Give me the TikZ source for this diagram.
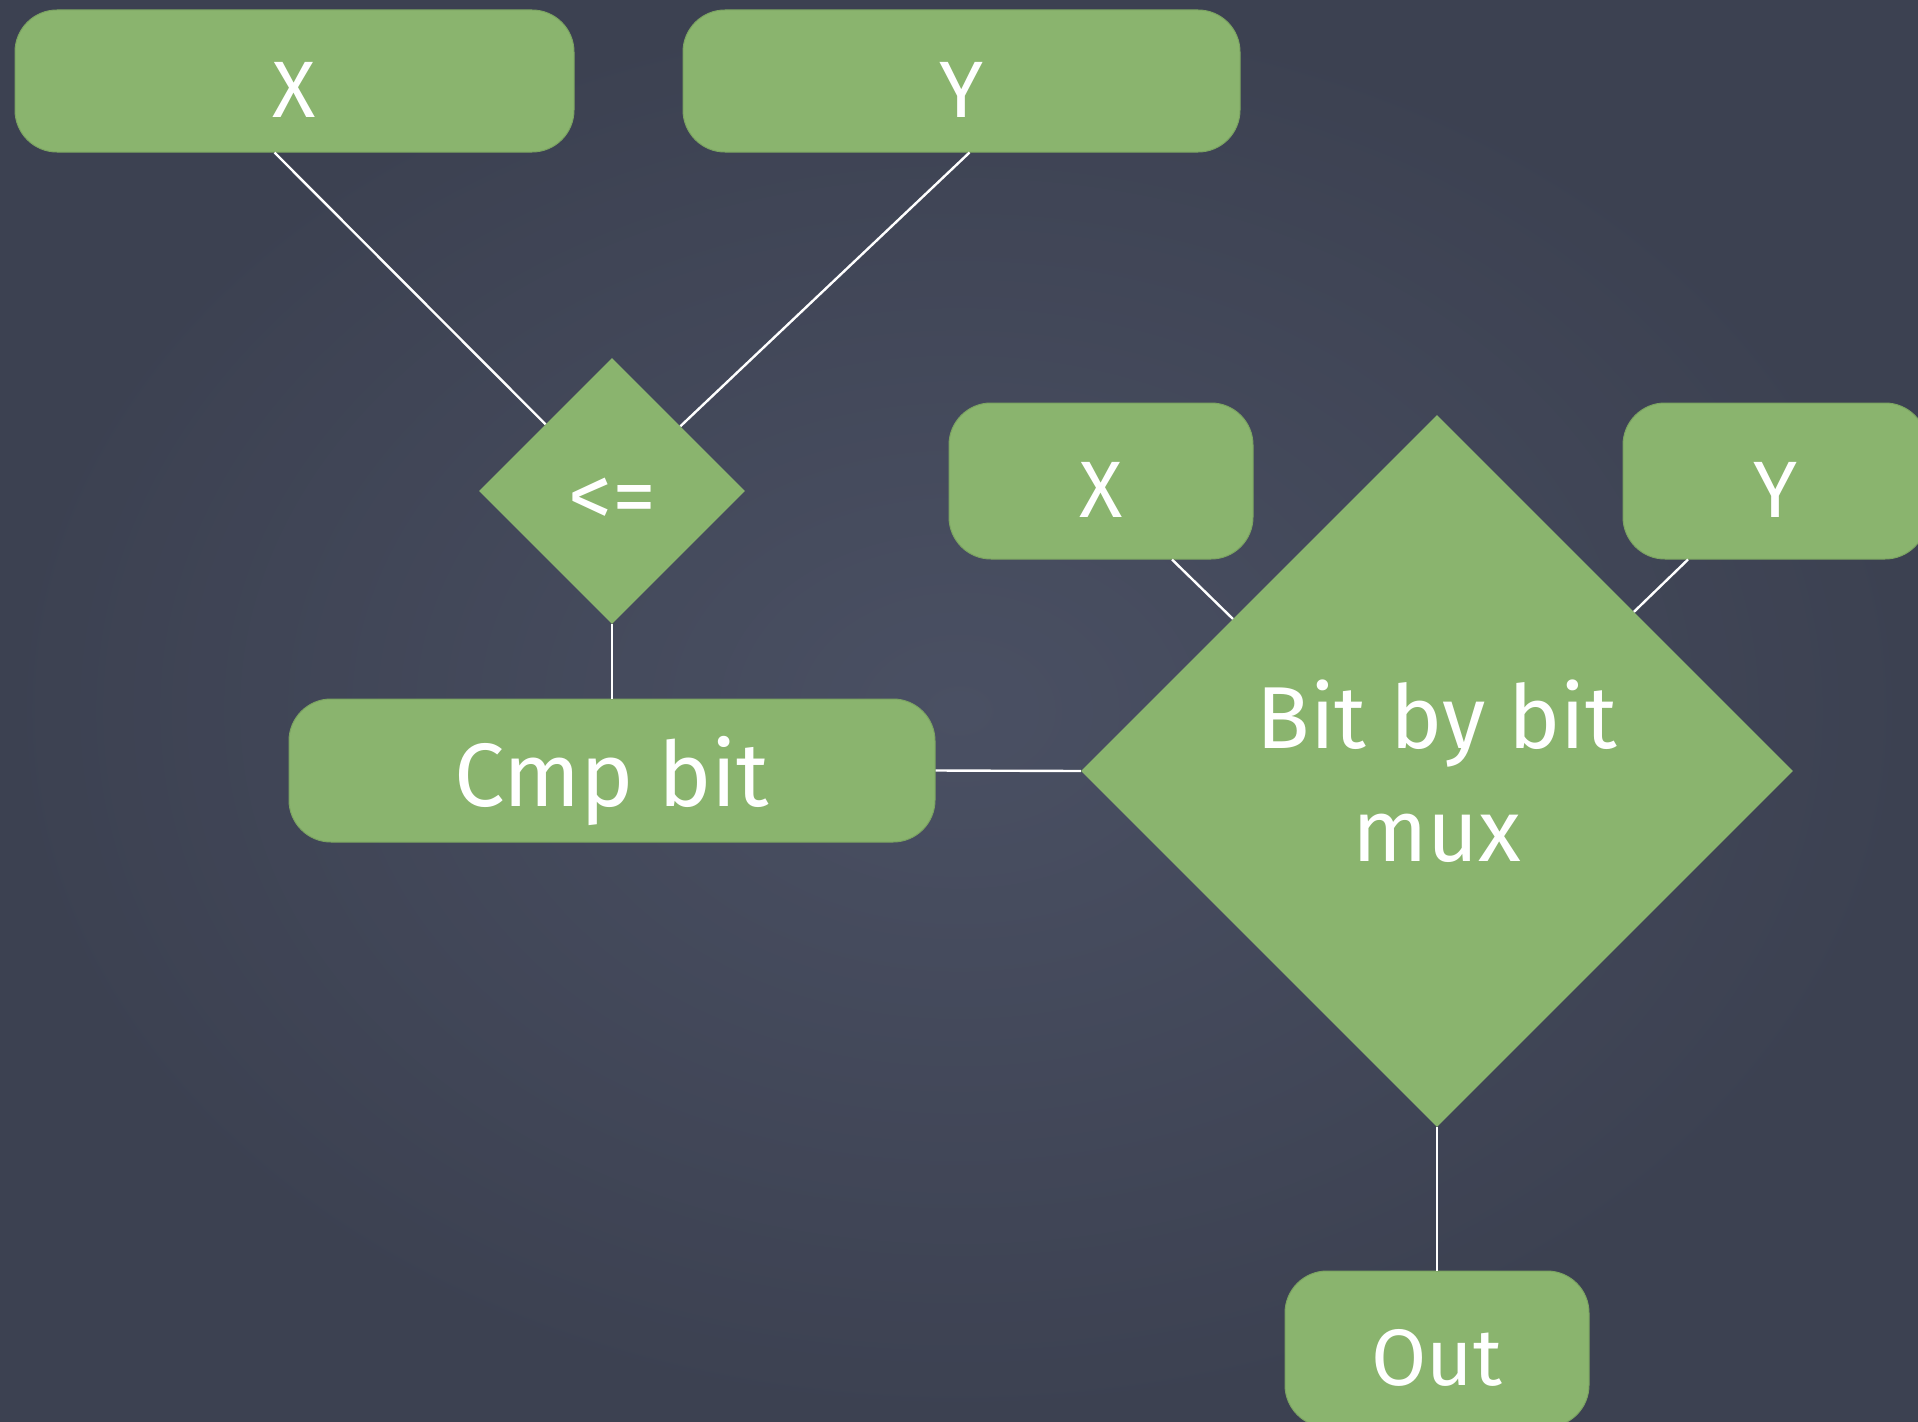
\documentclass[tikz,border=0pt]{standalone}
\usepackage{fontspec}
\setmainfont{Fira Sans}
\usetikzlibrary{shapes.geometric,calc}
\definecolor{boardlight}{HTML}{4A5063}
\definecolor{boarddark}{HTML}{3C4151}
\definecolor{leaf}{HTML}{8AB46E}
\definecolor{leafedge}{HTML}{7CA462}
\begin{document}
\begin{tikzpicture}[x=1pt,y=-1pt,
  box/.style={fill=leaf, draw=leafedge, line width=1pt, rounded corners=42pt,
    inner sep=0pt, text=white, text height=72pt, text depth=0pt,
    font=\fontsize{80}{96}\selectfont},
  gate/.style={diamond, aspect=1, fill=leaf, inner sep=0pt, text=white},
  wire/.style={draw=white, line width=2.4pt}]
  % chalkboard
  \path[use as bounding box] (0,0) rectangle (1918,1421);
  \shade[inner color=boardlight, outer color=boarddark] (0,0) rectangle (1918,1421);

  % comparator stage
  \node[box, minimum width=559pt, minimum height=142pt] (xtop) at (294.5,81) {X};
  \node[box, minimum width=557pt, minimum height=142pt] (ytop) at (961.5,81) {Y};
  \node[gate, minimum width=266pt, minimum height=266pt,
        font=\fontsize{88}{96}\selectfont] (cmpgate) at (612,491)
        {\raisebox{-35pt}[0pt][0pt]{<=}};
  \node[box, minimum width=646pt, minimum height=143pt,
        font=\fontsize{90}{100}\selectfont] (cmp) at (612,770.5) {Cmp bit};

  % multiplexer stage
  \node[box, minimum width=304pt, minimum height=156pt] (xmid) at (1101,481) {X};
  \node[box, minimum width=304pt, minimum height=156pt] (yright) at (1775,481) {Y};
  \node[gate, minimum width=712pt, minimum height=712pt, align=center,
        font=\fontsize{88}{113}\selectfont] (mux) at (1437,771) {Bit by bit\\mux};
  \node[box, minimum width=304pt, minimum height=156pt] (out) at (1437,1349) {Out};

  % connectors
  \draw[wire] ([xshift=-20pt]xtop.south) -- (cmpgate);
  \draw[wire] ([xshift=8pt]ytop.south) -- (cmpgate);
  \draw[wire] (cmpgate.south) -- (cmp.north);
  \draw[wire] (cmp.east) -- (mux.west);
  \draw[wire] ([xshift=71pt]xmid.south) -- ($(mux.west)!0.427!(mux.north)$);
  \draw[wire] ([xshift=-87pt]yright.south) -- ($(mux.north)!0.553!(mux.east)$);
  \draw[wire] (mux.south) -- (out.north);
\end{tikzpicture}
\end{document}
